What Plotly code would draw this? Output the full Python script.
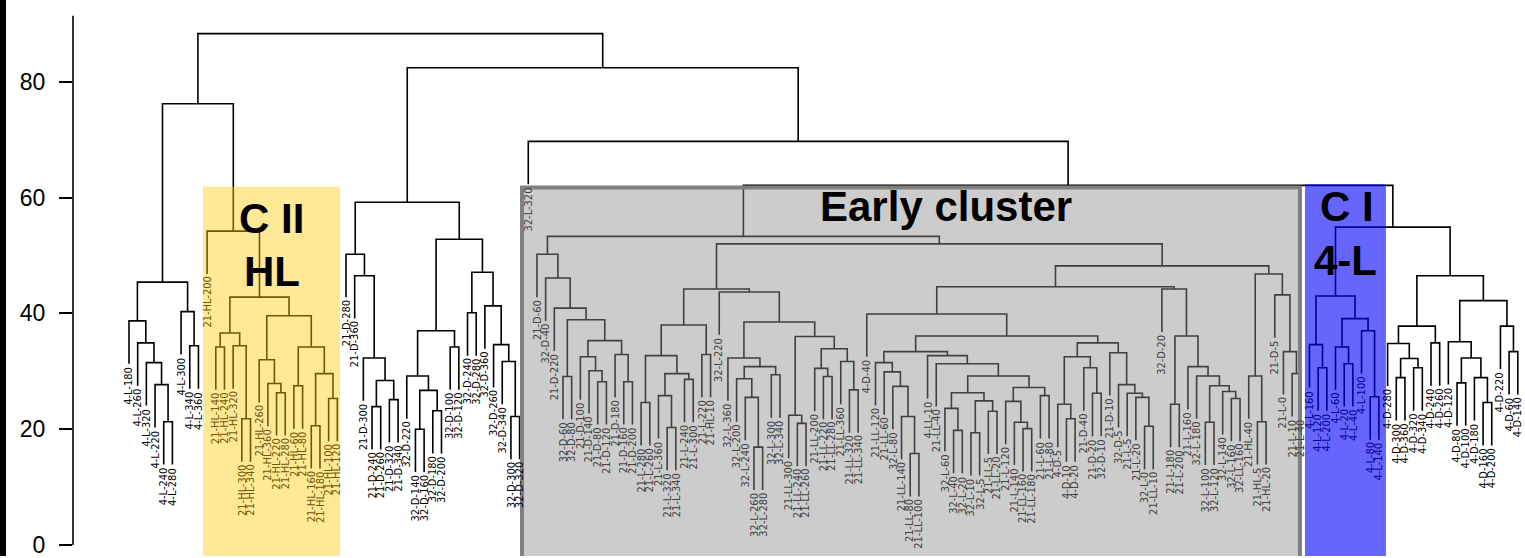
import plotly.graph_objects as go

# ---------------- data: dendrogram (height, left, right); leaves are sample names ----------------
HANG = 7.4
Y_TICKS = [0, 20, 40, 60, 80]

cluster_4L = (45.4,
    (38.7, "4-L-180", (34.9, "4-L-260", (31.5, "4-L-320", (27.7, "4-L-220", (21.3, "4-L-240", "4-L-280"))))),
    (40.3, "4-L-300", (34.4, "4-L-340", "4-L-360")))

cluster_CII = (54.2, "21-HL-200",
    (42.8,
        (36.6, (34.2, "21-HL-140", "21-HL-240"), (34.4, "21-HL-320", (21.8, "21-HL-300", "21-HL-340"))),
        (39.6,
            (32.0, "21-HL-260", (27.9, "21-HL-360", (26.3, "21-HL-220", "21-HL-280"))),
            (34.2, (27.5, "21-HL-60", "21-HL-80"),
                   (29.6, (20.6, "21-HL-160", "21-HL-180"), (25.3, "21-HL-100", "21-HL-120"))))))

cluster_D = (59.2,
    (50.2, "21-D-280", (46.5, "21-D-360", (32.3, "21-D-300",
        (28.4, (23.9, "21-D-240", "21-D-260"), (25.1, "21-D-320", "21-D-340"))))),
    (52.8,
        (37.0, (29.2, "32-D-220", (26.7, (20.0, "32-D-140", "32-D-160"), (23.2, "32-D-180", "32-D-200"))),
               (34.2, "32-D-100", "32-D-120")),
        (47.1, (40.1, "32-D-240", "32-D-280"),
               (41.3, "32-D-360", (34.6, "32-D-260", (31.7, "32-D-340", (22.2, "32-D-300", "32-D-320")))))))

early_D = (50.2, "21-D-60", (46.1, "32-D-40", (40.9, "21-D-220",
    (38.9, (29.1, "32-D-60", "32-D-80"),
           (35.3, (32.5, "21-D-100", (30.1, "21-D-140", (28.2, "21-D-80", "21-D-120"))),
                  (32.9, "21-D-180", (28.2, "21-D-160", "21-D-200")))))))

early_L = (38.0,
    (32.7, (24.6, "21-L-280", "21-L-260"),
           (29.6, (25.8, "21-L-360", (20.3, "21-L-320", "21-L-340")), (28.6, "21-L-240", "21-L-300"))),
    (32.9, "21-L-220", "21-HL-10"))

early_LL = (43.7, "32-L-220",
    (38.5,
        (32.3, "32-L-360", (30.8, (28.7, "32-L-200", (25.5, "32-L-240", (16.9, "32-L-260", "32-L-280"))),
                                  (29.4, "32-L-300", "32-L-340"))),
        (36.0, (22.4, "21-LL-300", (21.0, "21-LL-240", "21-LL-260")),
               (33.9, (30.5, "21-LL-200", (29.1, "21-LL-220", "21-LL-280")),
                      (31.7, "21-LL-360", (26.8, "21-LL-320", "21-LL-340"))))))

early_mixed = (33.4,
    (31.5, "21-LL-120", (29.9, "21-LL-60", (27.4, "32-L-80", (22.2, "21-LL-140", (15.8, "21-LL-80", "21-LL-100"))))),
    (32.7, "4-LL-10", (31.3, "21-LL-40",
        (29.2, (26.3, (23.6, "32-L-60", (19.8, "32-L-40", "32-L-20")),
                      (24.9, (19.4, "32-L-10", "32-L-5"), (23.1, "21-LL-5", "21-LL-20"))),
               (27.2, (24.8, "21-L-120", (21.2, "21-L-140", (20.1, "21-LL-160", "21-LL-180"))),
                      (25.8, "21-L-60", "21-L-80"))))))

early_dawn = (34.9,
    (32.5, (24.3, "4-D-5", (21.8, "4-D-10", "4-D-20")), (30.6, "21-D-40", (26.2, "21-D-20", "32-D-10"))),
    (33.2, "21-D-10", (27.7, "32-D-5", (26.2, "21-L-5", (25.5, "21-L-20", (20.5, "32-L-0", "21-LL-10"))))))

early_late = (44.2, "32-D-20",
    (36.1, (24.3, "21-L-180", "21-L-200"),
           (30.8, "21-L-160", (29.2, "32-L-180", (27.5, (21.2, "32-L-100", "32-L-120"),
                                                        (26.5, "32-L-140", (25.3, "32-L-160", "32-LL-160")))))))

early_HL = (46.8, (29.2, "21-HL-40", (21.3, "21-HL-5", "21-HL-20")),
                  (43.2, "21-D-5", (33.4, "21-L-0", (29.6, "21-L-10", "21-L-40"))))

cluster_CI = (43.0,
    (34.6, "4-L-160", (30.6, "4-L-120", "4-L-200")),
    (39.1, (34.2, "4-L-60", (31.3, "4-L-20", "4-L-40")), (37.0, "4-L-100", (25.6, "4-L-80", "4-L-140"))))

cluster_4D = (46.5,
    (37.8, (34.8, "4-D-280", (32.2, (28.9, "4-D-300", "4-D-360"), (30.6, "4-D-320", "4-D-340"))),
           (34.9, "4-D-240", "4-D-260")),
    (42.2, (35.1, "4-D-120", (32.3, (28.0, "4-D-80", "4-D-100"), (28.9, "4-D-180", (24.6, "4-D-160", "4-D-200")))),
           (37.8, "4-D-220", (33.4, "4-D-60", "4-D-140"))))

early_cluster = (53.3, early_D,
    (52.0, (44.2, early_L, early_LL),
           (48.2, (44.6, (39.9, "4-D-40", (36.1, early_mixed, early_dawn)), early_late), early_HL)))

tree = (88.3, (76.2, cluster_4L, cluster_CII),
              (82.4, cluster_D, (69.7, "32-L-320", (62.1, early_cluster, (54.9, cluster_CI, cluster_4D)))))

# ---------------- layout of the dendrogram ----------------
leaf_names, leaf_x, leaf_y = [], [], []
seg_x, seg_y = [], []


def place(node, parent_h=None):
    if isinstance(node, str):
        leaf_names.append(node)
        x = float(len(leaf_names))
        y = parent_h - HANG
        leaf_x.append(x)
        leaf_y.append(y)
        return x, y
    h, left, right = node
    xl, yl = place(left, h)
    xr, yr = place(right, h)
    seg_x.extend([xl, xl, xr, xr, None])
    seg_y.extend([yl, h, h, yr, None])
    return (xl + xr) / 2.0, h


place(tree)

# ---------------- figure ----------------
PX_LEFT = 73
X_RANGE = [-5.4516, 161.829]
Y_RANGE = [-1.892, 94.108]

fig = go.Figure()
fig.add_trace(go.Scatter(x=seg_x, y=seg_y, mode="lines",
                         line=dict(color="black", width=1.6), hoverinfo="skip", showlegend=False))

boxes = [  # x0, x1 (leaf units), top, overlay colour, opacity, label colour
    (9.53, 25.31, 61.9, "rgb(255,201,12)", 0.43, "rgb(110,87,5)"),
    (46.05, 136.14, 61.9, "rgb(142,142,142)", 0.45, "rgb(64,64,64)"),
    (136.48, 145.81, 62.3, "rgb(0,0,255)", 0.6, "rgb(0,0,153)"),
]
shapes = []
for x0, x1, top, col, op, _ in boxes:
    shapes.append(dict(type="rect", xref="x", yref="y", x0=x0, x1=x1, y0=-10, y1=top,
                       fillcolor=col, opacity=op, line=dict(width=0), layer="above"))
# grey frame of the early cluster
shapes.append(dict(type="rect", xref="x", yref="y", x0=46.28, x1=135.9, y0=-10, y1=61.75,
                   fillcolor="rgba(0,0,0,0)", line=dict(color="rgb(128,128,128)", width=4), layer="above"))
# y axis line
shapes.append(dict(type="line", xref="paper", yref="y", x0=0, x1=0, y0=0, y1=91.4,
                   line=dict(color="black", width=1.6)))
# black band at the left edge
shapes.append(dict(type="rect", xref="paper", yref="paper", x0=-PX_LEFT / 1452, x1=(6 - PX_LEFT) / 1452,
                   y0=0, y1=1, fillcolor="black", line=dict(width=0)))

annotations = []
for name, x, y in zip(leaf_names, leaf_x, leaf_y):
    color = "black"
    for x0, x1, top, _, _, lc in boxes:
        if x0 <= x <= x1:
            color = lc
    annotations.append(dict(x=x, y=y, xref="x", yref="y", text=name, showarrow=False,
                            textangle=-90, xanchor="center", yanchor="top", yshift=-1,
                            font=dict(family="Liberation Sans Narrow, Arial Narrow, DejaVu Sans Condensed, sans-serif",
                                      size=11, color=color)))

big_font = dict(family="Liberation Sans, Arial, sans-serif", size=42, color="black")
for text, x, y in [("C II", 17.47, 56.3), ("HL", 17.47, 47.3), ("Early cluster", 95.1, 58.4),
                   ("C I", 141.3, 58.4), ("4-L", 141.1, 49.1)]:
    annotations.append(dict(x=x, y=y, xref="x", yref="y", text="<b>" + text + "</b>", showarrow=False,
                            xanchor="center", yanchor="middle", font=big_font))

fig.update_layout(
    width=1525, height=558,
    margin=dict(l=PX_LEFT, r=0, t=0, b=0),
    paper_bgcolor="white", plot_bgcolor="white",
    xaxis=dict(range=X_RANGE, visible=False, fixedrange=True),
    yaxis=dict(range=Y_RANGE, tickvals=Y_TICKS, ticks="outside", ticklen=13, tickwidth=1.6,
               tickcolor="black", showgrid=False, zeroline=False, showline=False,
               tickfont=dict(family="Liberation Sans, Arial, sans-serif", size=23, color="black"),
               ticklabelstandoff=9, ticklabeloverflow="allow", fixedrange=True),
    shapes=shapes, annotations=annotations, showlegend=False,
)

fig.write_html("out.html")
